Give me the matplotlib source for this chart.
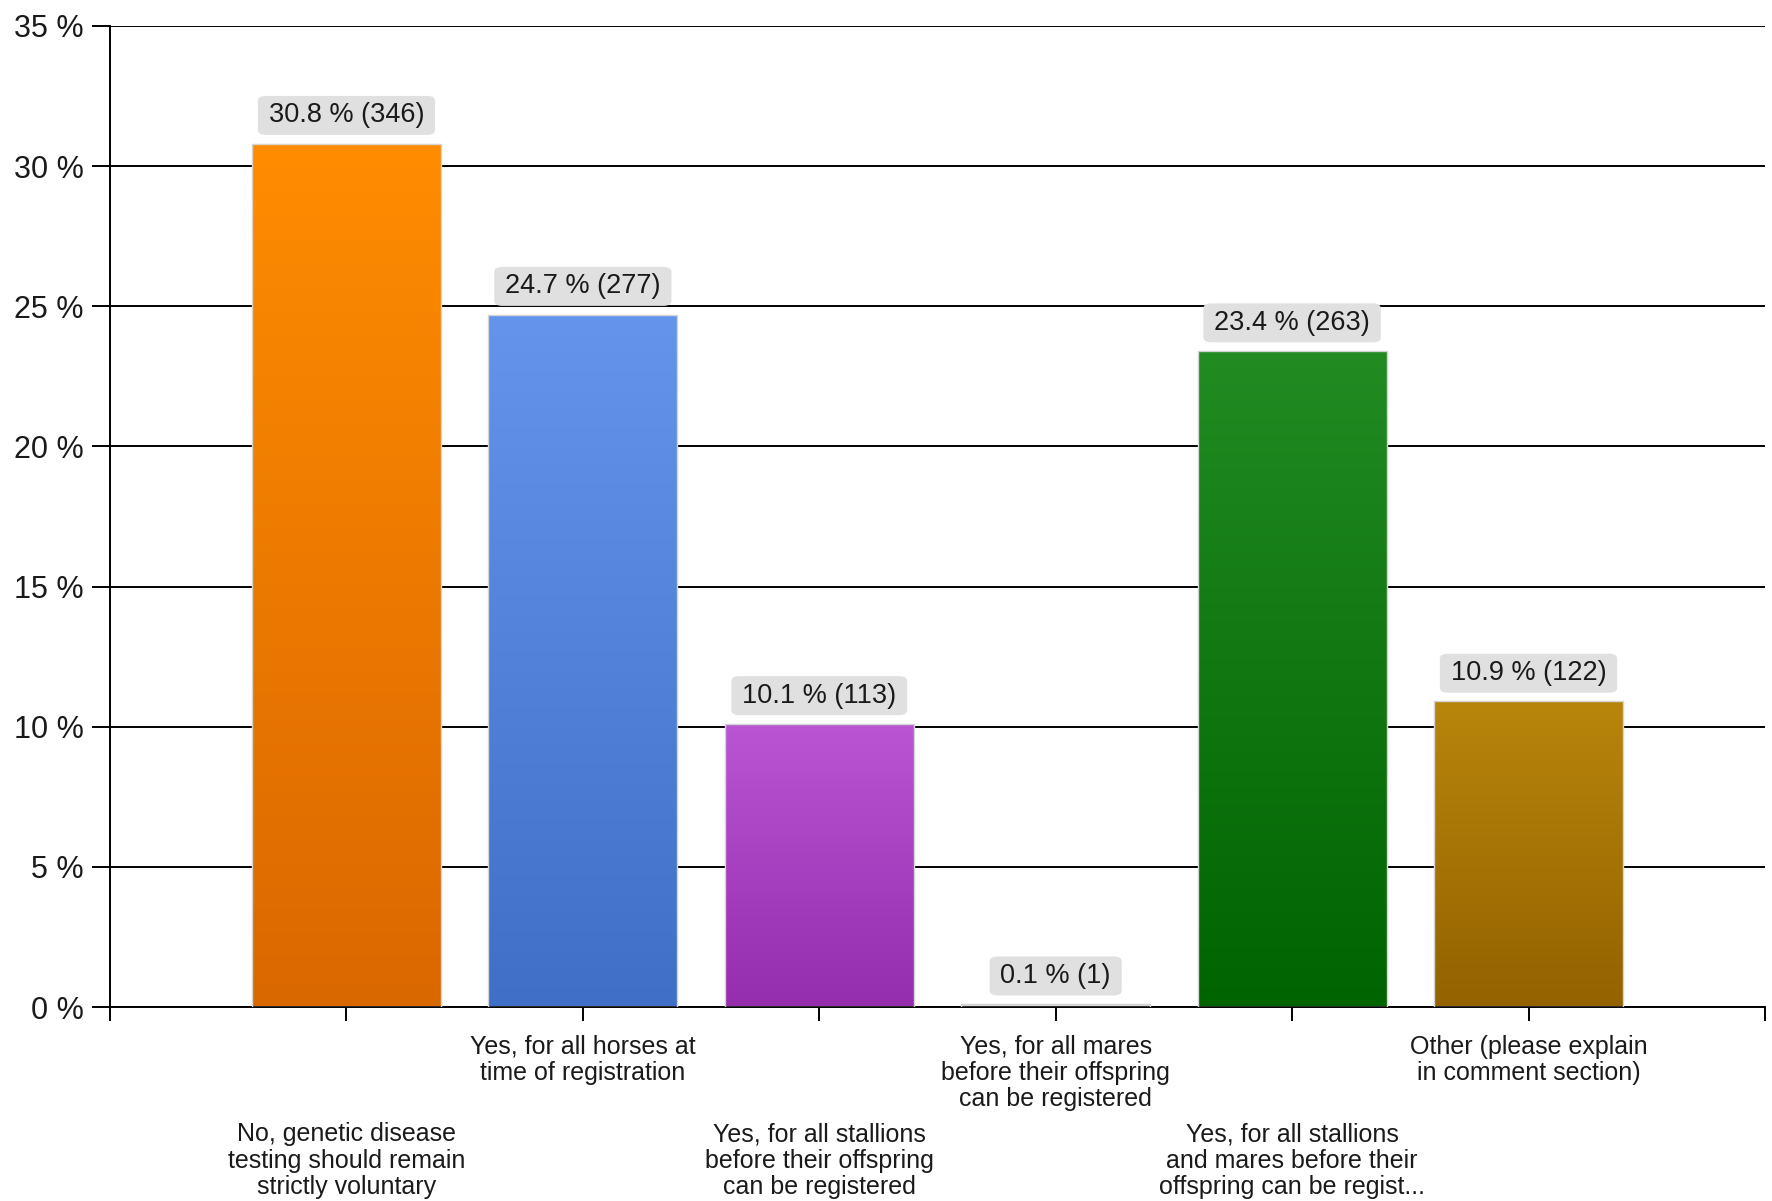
import numpy as np
import matplotlib
matplotlib.use("Agg")
import matplotlib.pyplot as plt
from matplotlib.colors import LinearSegmentedColormap

# survey answers
categories = [
    "No, genetic disease\ntesting should remain\nstrictly voluntary",
    "Yes, for all horses at\ntime of registration",
    "Yes, for all stallions\nbefore their offspring\ncan be registered",
    "Yes, for all mares\nbefore their offspring\ncan be registered",
    "Yes, for all stallions\nand mares before their\noffspring can be regist...",
    "Other (please explain\nin comment section)",
]
percents = [30.8, 24.7, 10.1, 0.1, 23.4, 10.9]
counts = [346, 277, 113, 1, 263, 122]
# (top, bottom) gradient colours
top_colors = ["#FF8C00", "#6495ED", "#BA55D3", "#E6E6E6", "#228B22", "#B8860B"]
bottom_colors = ["#DA6800", "#3F6FC6", "#942DAE", "#C8C8C8", "#006400", "#946200"]
yticks = [0, 5, 10, 15, 20, 25, 30, 35]

plt.rcParams["font.family"] = ["Liberation Sans", "DejaVu Sans"]

fig = plt.figure(figsize=(17.72, 12.01), dpi=100)
ax = fig.add_axes([0.0621, 0.1615, 0.9339, 0.8169])

x = np.arange(len(categories))
bars = ax.bar(x, percents, width=0.8, color="none", edgecolor="#D4D4D4",
              linewidth=1.0, zorder=3)
grad = np.linspace(0, 1, 256).reshape(-1, 1)
for bar, ct, cb in zip(bars, top_colors, bottom_colors):
    cmap = LinearSegmentedColormap.from_list("g", [cb, ct])
    x0, y0 = bar.get_x(), bar.get_y()
    w, h = bar.get_width(), bar.get_height()
    im = ax.imshow(grad, cmap=cmap, extent=[x0, x0 + w, y0, y0 + h],
                   origin="lower", aspect="auto", zorder=2)
    im.set_clip_path(bar)

ax.set_xlim(-1, 6)
ax.set_ylim(0, 35)
ax.set_aspect("auto")

# value labels in grey boxes
for xi, p, n in zip(x, percents, counts):
    ax.annotate(f"{p} % ({n})", xy=(xi, p), xytext=(0, 11),
                textcoords="offset points", ha="center", va="bottom",
                fontsize=19.5, color="#1a1a1a", zorder=5,
                bbox=dict(boxstyle="round,pad=0.4,rounding_size=0.3",
                          fc="#E0E0E0", ec="none", mutation_aspect=0.6))

ax.set_yticks(yticks)
ax.set_yticklabels([f"{v} %" for v in yticks])
ax.tick_params(axis="y", length=13, width=1.4, pad=6, labelsize=22,
               labelcolor="#1a1a1a")
ax.set_xticks(np.arange(-1, 7))
ax.set_xticklabels([])
ax.tick_params(axis="x", length=10, width=1.4)

# staggered category labels
for i, lab in enumerate(categories):
    off = -20 if i % 2 == 1 else -83
    ax.annotate(lab, xy=(i, 0), xycoords=("data", "axes fraction"),
                xytext=(0, off), textcoords="offset points",
                ha="center", va="top", fontsize=18, color="#1a1a1a",
                linespacing=1.12, annotation_clip=False)

ax.yaxis.grid(True, color="black", linewidth=1.4)
ax.set_axisbelow(True)
for s in ["top", "right"]:
    ax.spines[s].set_visible(False)
ax.spines["left"].set_linewidth(1.4)
ax.spines["bottom"].set_linewidth(1.4)

fig.savefig("out.png", dpi=100)
